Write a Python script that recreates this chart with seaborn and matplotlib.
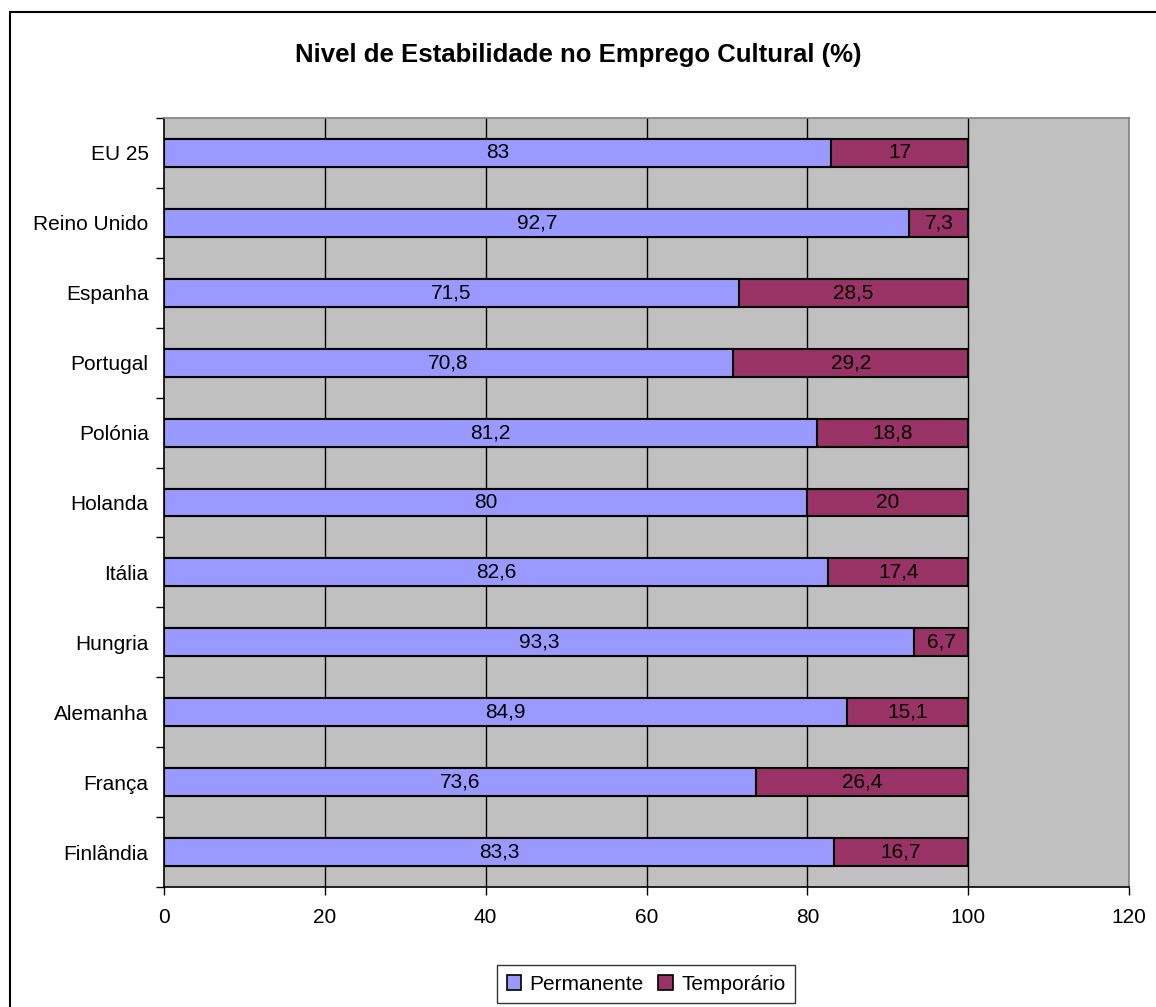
import matplotlib
matplotlib.use("Agg")
import matplotlib.pyplot as plt
import seaborn as sns
import pandas as pd
from matplotlib.patches import Rectangle, Patch

countries = ["EU 25", "Reino Unido", "Espanha", "Portugal", "Polónia", "Holanda",
             "Itália", "Hungria", "Alemanha", "França", "Finlândia"]
permanente = [83, 92.7, 71.5, 70.8, 81.2, 80, 82.6, 93.3, 84.9, 73.6, 83.3]
temporario = [17, 7.3, 28.5, 29.2, 18.8, 20, 17.4, 6.7, 15.1, 26.4, 16.7]
series_names = ["Permanente", "Temporário"]
x_ticks = [0, 20, 40, 60, 80, 100, 120]
title = "Nivel de Estabilidade no Emprego Cultural (%)"

c_perm = "#9999FF"
c_temp = "#993366"

df = pd.DataFrame({"pais": countries, "perm": permanente, "temp": temporario})
df["total"] = df["perm"] + df["temp"]

sns.set_theme(style="white")
plt.rcParams["font.family"] = ["Liberation Sans", "DejaVu Sans"]
plt.rcParams["text.color"] = "black"
plt.rcParams["xtick.color"] = "black"
plt.rcParams["ytick.color"] = "black"
plt.rcParams["axes.labelcolor"] = "black"

fig = plt.figure(figsize=(11.56, 10.07), dpi=100)
ax = fig.add_axes([164/1156, 1-887/1007, (1129-164)/1156, (887-118)/1007])
ax.set_facecolor("#C0C0C0")

sns.barplot(data=df, y="pais", x="total", order=countries, color=c_temp, saturation=1,
            width=0.4, edgecolor="black", linewidth=1.5, ax=ax, orient="h", zorder=3)
sns.barplot(data=df, y="pais", x="perm", order=countries, color=c_perm, saturation=1,
            width=0.4, edgecolor="black", linewidth=1.5, ax=ax, orient="h", zorder=4)

fs = 15
def fmt(v):
    s = f"{v:g}"
    return s.replace(".", ",")

for i, (p, t) in enumerate(zip(permanente, temporario)):
    ax.text(p / 2, i, fmt(p), ha="center", va="center", fontsize=fs, color="black", zorder=5)
    ax.text(p + t / 2, i, fmt(t), ha="center", va="center", fontsize=fs, color="black", zorder=5)

ax.set_xlim(0, 120)
ax.set_ylim(len(countries) - 0.5, -0.5)
ax.set_xticks(x_ticks)
ax.set_xticklabels([str(v) for v in x_ticks], fontsize=fs)
ax.set_yticks(range(len(countries)))
ax.set_yticklabels(countries, fontsize=fs)
ax.set_yticks([i - 0.5 for i in range(len(countries) + 1)], minor=True)
ax.tick_params(axis="y", which="major", length=0, pad=11)
ax.tick_params(axis="y", which="minor", length=6, width=1, color="black", direction="out", left=True)
ax.tick_params(axis="x", which="major", length=6, width=1, color="black", direction="out",
               bottom=True, pad=9)
ax.set_xlabel("")
ax.set_ylabel("")

ax.grid(False)
for xv in x_ticks[1:-1]:
    ax.axvline(xv, color="black", linewidth=1, zorder=1)

for s in ["left", "bottom"]:
    ax.spines[s].set_color("black")
    ax.spines[s].set_linewidth(1.2)
for s in ["top", "right"]:
    ax.spines[s].set_color("#808080")
    ax.spines[s].set_linewidth(1.2)

fig.text(0.5, 1 - 55/1007, title, ha="center", va="center", fontsize=18.5, fontweight="bold",
         color="black")

handles = [Patch(facecolor=c_perm, edgecolor="black", linewidth=1.2, label=series_names[0]),
           Patch(facecolor=c_temp, edgecolor="black", linewidth=1.2, label=series_names[1])]
leg = fig.legend(handles=handles, loc="center", bbox_to_anchor=(646/1156, 1 - 984/1007),
                 ncol=2, fontsize=fs, frameon=True, fancybox=False, handlelength=0.7,
                 handleheight=0.7, handletextpad=0.4, columnspacing=0.7, borderpad=0.45)
leg.get_frame().set_edgecolor("black")
leg.get_frame().set_linewidth(1)
for t in leg.get_texts():
    t.set_color("black")

fig.patches.append(Rectangle((10/1156, -0.1), 2, 1 - 12/1007 + 0.1, transform=fig.transFigure,
                             fill=False, edgecolor="black", linewidth=1.5))

fig.savefig("out.png", dpi=100)
